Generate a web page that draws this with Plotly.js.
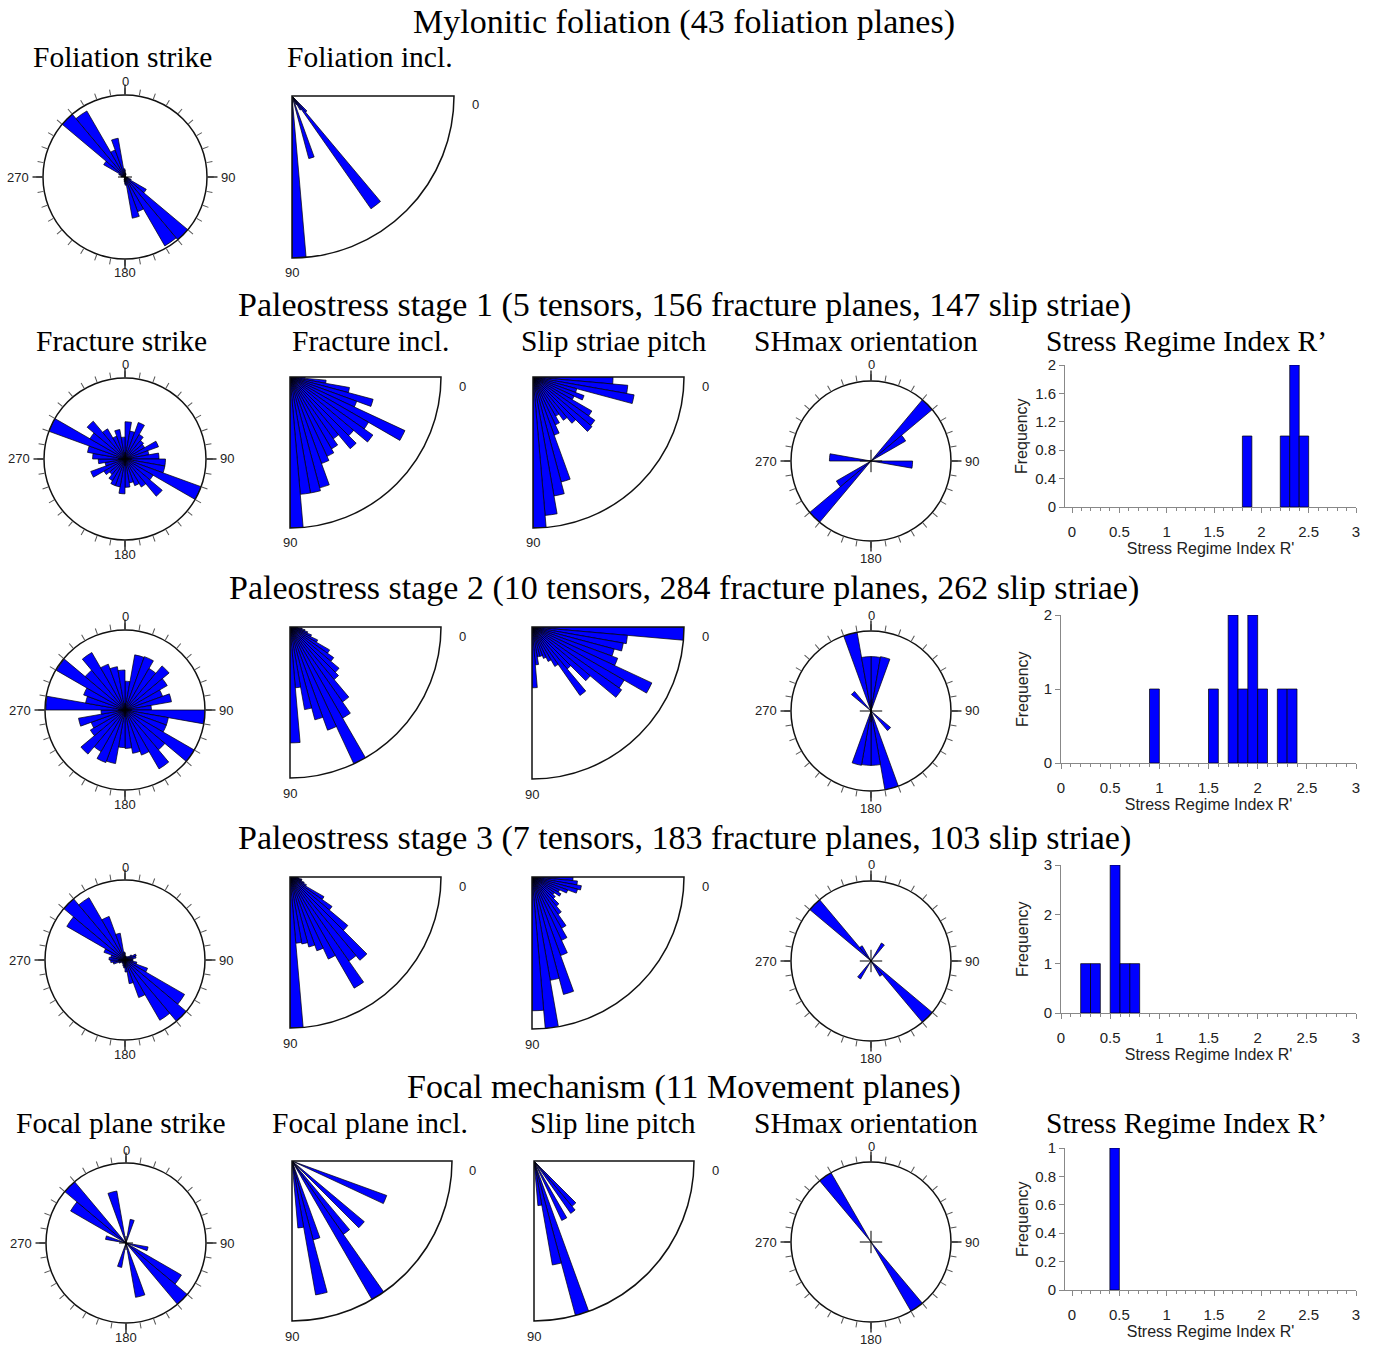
<!DOCTYPE html>
<html><head><meta charset="utf-8">
<script src="https://cdn.plot.ly/plotly-3.0.1.min.js"></script>
<style>html,body{margin:0;padding:0;background:#fff}#chart{width:1375px;height:1347px}</style>
</head><body><div id="chart"></div>
<script>
// ---------------- DATA ----------------
// 10-degree strike / azimuth bins (bin centres, degrees from N, clockwise)
const strikeBins = [5,15,25,35,45,55,65,75,85,95,105,115,125,135,145,155,165,175,
                    185,195,205,215,225,235,245,255,265,275,285,295,305,315,325,335,345,355];
// 5-degree inclination / pitch bins (bin centres, degrees)
const inclBins = [2.5,7.5,12.5,17.5,22.5,27.5,32.5,37.5,42.5,47.5,52.5,57.5,62.5,67.5,72.5,77.5,82.5,87.5];

// Mylonitic foliation
const foliationStrike = [0.05,0.04,0,0,0,0,0,0,0,0,0.04,0.08,0.3,1.0,0.97,0.45,0.51,0.1,
                         0.06,0.04,0,0,0,0,0,0,0,0.05,0.04,0.08,0.3,1.0,0.93,0.35,0.48,0.1];
const foliationIncl = [0,0,0,0,0,0,0,0,0,0.13,0.85,0.1,0.06,0,0.4,0,0,1.0];

// Paleostress stage 1
const s1FractureStrike = [0.46,0.35,0.48,0.35,0.3,0.28,0.44,0.3,0.42,0.5,0.5,1.0,0.4,0.6,0.4,0.35,0.3,0.35,
                          0.43,0.35,0.35,0.31,0.25,0.3,0.45,0.25,0.33,0.4,0.47,1.0,0.5,0.61,0.43,0.3,0.37,0.27];
const s1FractureIncl = [0.1,0.24,0.4,0.57,0.47,0.84,0.6,0.67,0.55,0.62,0.5,0.55,0.58,0.61,0.76,0.78,0.78,1.0];
const s1SlipPitch = [0.53,0.63,0.68,0.3,0.36,0.3,0.45,0.5,0.51,0.4,0.35,0.3,0.35,0.41,0.72,0.8,0.92,1.0];
const s1SHmax = [0,0,0,0,1.0,0.5,0,0,0,0.52,0,0,0,0,0,0,0,0,
                 0,0,0,0,1.0,0.5,0,0,0,0.52,0,0,0,0,0,0,0,0];
const s1R = [1.85,2.25,2.35,2.45];
const s1Freq = [1,1,2,1];

// Paleostress stage 2
const s2FractureStrike = [0.36,0.7,0.71,0.6,0.72,0.61,0.5,0.59,0.33,1.0,0.55,0.55,1.0,0.65,0.85,0.6,0.55,0.48,
                          0.47,0.68,0.7,0.6,0.72,0.5,0.45,0.59,0.3,0.99,0.5,0.55,0.99,0.65,0.83,0.61,0.55,0.5];
const s2FractureIncl = [0.05,0.08,0.1,0.12,0.15,0.2,0.3,0.35,0.42,0.45,0.6,0.69,0.99,0.72,0.63,0.55,0.4,0.76];
const s2SlipPitch = [1.0,0.63,0.61,0.56,0.6,0.87,0.7,0.72,0.5,0.36,0.55,0.3,0.25,0.22,0.2,0.2,0.25,0.4];
const s2SHmax = [0.68,0.69,0,0,0,0,0,0,0,0,0,0,0,0.32,0,0,1.0,0.68,
                 0.68,0.69,0,0,0,0,0,0,0,0,0,0,0,0.32,0,0,1.0,0.68];
const s2R = [0.95,1.55,1.75,1.85,1.95,2.05,2.25,2.35];
const s2Freq = [1,1,2,1,2,1,1,1];

// Paleostress stage 3
const s3FractureStrike = [0.05,0.05,0.04,0.05,0.06,0.1,0.15,0.14,0.1,0.1,0.15,0.3,0.86,1.0,0.87,0.5,0.3,0.15,
                          0.1,0.08,0.06,0.05,0.05,0.05,0.08,0.15,0.18,0.2,0.18,0.28,0.84,1.0,0.9,0.58,0.34,0.1];
const s3FractureIncl = [0.05,0.06,0.08,0.08,0.1,0.12,0.26,0.34,0.5,0.72,0.68,0.85,0.6,0.52,0.48,0.45,0.44,1.0];
const s3SlipPitch = [0.27,0.3,0.33,0.31,0.25,0.2,0.22,0.18,0.2,0.25,0.3,0.39,0.46,0.55,0.8,0.69,1.0,0.88];
const s3SHmax = [0,0,0,0.26,0,0,0,0,0,0,0,0,0,1.0,0.22,0,0,0,
                 0,0,0,0.26,0,0,0,0,0,0,0,0,0,1.0,0.22,0,0,0];
const s3R = [0.25,0.35,0.55,0.65,0.75];
const s3Freq = [1,1,3,1,1];

// Focal mechanism
const focalStrike = [0,0.3,0,0,0,0,0,0,0,0,0.28,0,0.8,1.0,0,0,0.69,0,
                     0,0.31,0,0,0,0,0,0,0,0,0.26,0,0.8,1.0,0,0,0.66,0];
const focalIncl = [0,0,0,0,0.63,0,0,0,0.59,0,0.56,1.0,0,0,0.51,0.85,0.42,0];
const focalSlipPitch = [0,0,0,0,0,0,0,0,0,0.37,0.4,0,0.41,0,1.0,0.66,0.28,0];
const focalSHmax = [0,0,0,0,0,0,0,0,0,0,0,0,0,0,1.0,0,0,0,
                    0,0,0,0,0,0,0,0,0,0,0,0,0,0,1.0,0,0,0];
const focalR = [0.45];
const focalFreq = [1];

// Texts
const mainTitles = [
  "Mylonitic foliation (43 foliation planes)",
  "Paleostress stage 1 (5 tensors, 156 fracture planes, 147 slip striae)",
  "Paleostress stage 2 (10 tensors, 284 fracture planes, 262 slip striae)",
  "Paleostress stage 3 (7 tensors, 183 fracture planes, 103 slip striae)",
  "Focal mechanism (11 Movement planes)"
];
const foliationPanelTitles = ["Foliation strike","Foliation incl."];
const stressPanelTitles = ["Fracture strike","Fracture incl.","Slip striae pitch","SHmax orientation","Stress Regime Index R\u2019"];
const focalPanelTitles = ["Focal plane strike","Focal plane incl.","Slip line pitch","SHmax orientation","Stress Regime Index R\u2019"];
const histXTitle = "Stress Regime Index R'";
const histYTitle = "Frequency";
const roseLabels = ["0","90","180","270"];
const quarterLabels = ["0","90"];

// ---------------- BUILD ----------------
const W = 1375, H = 1347;
const px = x => x / W;
const py = y => 1 - y / H;
const BLUE = '#0000ff';
const SANS = 'Liberation Sans Narrow, Liberation Sans, Arial, sans-serif';
const SERIF = 'Liberation Serif, Times New Roman, serif';
const tickFont = {family: SANS, size: 13, color: '#222'};

const roseTicks = []; for (let a = 0; a < 360; a += 10) roseTicks.push(a);
const quarterTicks = []; for (let a = 10; a <= 80; a += 10) quarterTicks.push(a);

const traces = [];
const layout = {
  width: W, height: H, margin: {l: 0, r: 0, t: 0, b: 0},
  showlegend: false, paper_bgcolor: '#fff', plot_bgcolor: '#fff',
  annotations: []
};
let pid = 0;
function newPolar() { pid++; return pid === 1 ? 'polar' : 'polar' + pid; }
function dummy(sp) {
  traces.push({type: 'scatterpolar', subplot: sp, r: [0], theta: [0], mode: 'markers',
    marker: {size: 1, opacity: 0}, hoverinfo: 'skip'});
}
function label(t, x, y, font, extra) {
  layout.annotations.push(Object.assign({text: t, x: px(x), y: py(y), xref: 'paper', yref: 'paper',
    showarrow: false, xanchor: 'center', yanchor: 'middle', font: font}, extra || {}));
}

function rose(cx, cy, r, values, crossSize, vGap, hGap) {
  const dom = {x: [px(cx - r), px(cx + r)], y: [py(cy + r), py(cy - r)]};
  const base = newPolar();
  layout[base] = {
    domain: dom, bgcolor: '#fff',
    radialaxis: {visible: false, range: [0, Math.max(...values)]},
    angularaxis: {rotation: 90, direction: 'clockwise', tickmode: 'array', tickvals: roseTicks,
      showticklabels: false, ticks: 'outside', ticklen: 6, tickcolor: '#555', tickwidth: 1,
      showline: true, linecolor: '#111', linewidth: 1.5, showgrid: false}
  };
  traces.push({type: 'barpolar', subplot: base, r: values, theta: strikeBins, width: 10,
    marker: {color: BLUE, line: {color: '#000', width: 0.7}}, hoverinfo: 'skip'});
  // cardinal ticks + centre cross
  const ov = newPolar();
  layout[ov] = {
    domain: dom, bgcolor: 'rgba(0,0,0,0)',
    radialaxis: {visible: false, range: [0, 1]},
    angularaxis: {rotation: 90, direction: 'clockwise', tickmode: 'array', tickvals: [0, 90, 180, 270],
      showticklabels: false, ticks: 'outside', ticklen: 10, tickcolor: '#111', tickwidth: 1.3,
      showline: false, showgrid: false}
  };
  traces.push({type: 'scatterpolar', subplot: ov, r: [0], theta: [0], mode: 'markers',
    marker: {symbol: 'cross-thin-open', size: crossSize, color: '#000', line: {color: '#000', width: 1}},
    hoverinfo: 'skip'});
  // cardinal labels
  label(roseLabels[0], cx, cy - r - vGap, tickFont);
  label(roseLabels[1], cx + r + hGap, cy, tickFont, {xanchor: 'left'});
  label(roseLabels[2], cx, cy + r + vGap + 1, tickFont);
  label(roseLabels[3], cx - r - hGap, cy, tickFont, {xanchor: 'right'});
}

function quarter(vx, vy, r, values) {
  const dom = {x: [px(vx), px(vx + r)], y: [py(vy + r), py(vy)]};
  const base = newPolar();
  layout[base] = {
    domain: dom, sector: [270, 360], bgcolor: '#fff',
    radialaxis: {visible: false, range: [0, Math.max(...values)]},
    angularaxis: {rotation: 0, direction: 'clockwise', tickmode: 'array', tickvals: quarterTicks,
      showticklabels: false, ticks: 'outside', ticklen: 6, tickcolor: '#555', tickwidth: 1,
      showline: true, linecolor: '#111', linewidth: 1.5, showgrid: false}
  };
  traces.push({type: 'barpolar', subplot: base, r: values, theta: inclBins, width: 5,
    marker: {color: BLUE, line: {color: '#000', width: 0.7}}, hoverinfo: 'skip'});
  // frame edges (0 and 90 degree lines)
  const ov = newPolar();
  layout[ov] = {
    domain: dom, sector: [270, 360], bgcolor: 'rgba(0,0,0,0)',
    radialaxis: {visible: false, range: [0, 1]},
    angularaxis: {rotation: 0, direction: 'clockwise', tickmode: 'array', tickvals: [0, 90],
      showticklabels: false, ticks: '', showline: false, showgrid: true, gridcolor: '#111', gridwidth: 1.5}
  };
  dummy(ov);
  label(quarterLabels[0], vx + r + 21, vy + 9, tickFont);
  label(quarterLabels[1], vx, vy + r + 15, tickFont);
}

let hid = 0;
function hist(xs, ys, x0px, x3px, xLeftPx, yBotPx, yTopPx, ymax, ytickvals) {
  hid++;
  const xa = hid === 1 ? 'xaxis' : 'xaxis' + hid;
  const ya = hid === 1 ? 'yaxis' : 'yaxis' + hid;
  const xr = hid === 1 ? 'x' : 'x' + hid;
  const yr = hid === 1 ? 'y' : 'y' + hid;
  const upp = 3 / (x3px - x0px);
  const xmin = (xLeftPx - x0px) * upp;
  const fnt = {family: 'Liberation Sans, Arial, sans-serif', size: 15, color: '#222'};
  const axisCommon = {showline: true, linecolor: '#888', linewidth: 1, ticks: 'outside', tickcolor: '#888',
    ticklen: 5, tickfont: fnt, showgrid: false, zeroline: false, automargin: false, fixedrange: true};
  layout[xa] = Object.assign({}, axisCommon, {
    domain: [px(xLeftPx), px(x3px)], range: [xmin, 3], anchor: yr,
    tickmode: 'array', tickvals: [0, 0.5, 1, 1.5, 2, 2.5, 3], ticktext: ['0','0.5','1','1.5','2','2.5','3'],
    ticklabelstandoff: 6,
    minor: {dtick: 0.1, tick0: 0, ticks: 'outside', ticklen: 3, tickcolor: '#888'},
    title: {text: histXTitle, standoff: 1, font: Object.assign({}, fnt, {size: 16})}
  });
  layout[ya] = Object.assign({}, axisCommon, {
    domain: [py(yBotPx), py(yTopPx)], range: [0, ymax], anchor: xr,
    tickmode: 'array', tickvals: ytickvals, ticktext: ytickvals.map(String)
  });
  label(histYTitle, 1022, (yBotPx + yTopPx) / 2, Object.assign({}, fnt, {size: 16}), {textangle: -90});
  traces.push({type: 'bar', x: xs, y: ys, xaxis: xr, yaxis: yr, width: 0.1,
    marker: {color: BLUE, line: {color: '#000', width: 0.7}}, hoverinfo: 'skip'});
}

function text(t, x, y, size) {
  label(t, x, y, {family: SERIF, size: size, color: '#000'});
}

// Row 1 : mylonitic foliation
rose(125, 177, 82, foliationStrike, 10, 13, 12);
quarter(292, 96, 162, foliationIncl);
// Row 2 : stage 1
rose(125, 459, 81, s1FractureStrike, 10, 13, 12);
quarter(290, 377, 151, s1FractureIncl);
quarter(533, 377, 151, s1SlipPitch);
rose(871, 461, 80, s1SHmax, 16, 16, 12);
hist(s1R, s1Freq, 1072, 1356, 1065, 507, 365, 2, [0, 0.4, 0.8, 1.2, 1.6, 2]);
// Row 3 : stage 2
rose(125, 710, 80, s2FractureStrike, 10, 13, 12);
quarter(290, 627, 151, s2FractureIncl);
quarter(532, 627, 152, s2SlipPitch);
rose(871, 711, 80, s2SHmax, 16, 16, 12);
hist(s2R, s2Freq, 1061, 1356, 1061, 763, 615, 2, [0, 1, 2]);
// Row 4 : stage 3
rose(125, 960, 80, s3FractureStrike, 10, 13, 12);
quarter(290, 877, 151, s3FractureIncl);
quarter(532, 877, 152, s3SlipPitch);
rose(871, 961, 80, s3SHmax, 16, 16, 12);
hist(s3R, s3Freq, 1061, 1356, 1061, 1013, 865, 3, [0, 1, 2, 3]);
// Row 5 : focal mechanisms
rose(126, 1243, 80, focalStrike, 10, 13, 12);
quarter(292, 1161, 160, focalIncl);
quarter(534, 1161, 160, focalSlipPitch);
rose(871, 1242, 80, focalSHmax, 16, 16, 12);
hist(focalR, focalFreq, 1072, 1356, 1065, 1290, 1148, 1, [0, 0.2, 0.4, 0.6, 0.8, 1]);

// Titles
const mainY = [22, 305, 588, 838, 1087];
mainTitles.forEach((t, i) => text(t, 684, mainY[i], 34));
const panelX = [121, 370, 613, 866, 1186];
text(foliationPanelTitles[0], 122, 57, 29.5);
text(foliationPanelTitles[1], 370, 57, 29.5);
stressPanelTitles.forEach((t, i) => text(t, panelX[i], 341, 29.5));
focalPanelTitles.forEach((t, i) => text(t, panelX[i], 1123, 29.5));

Plotly.newPlot('chart', traces, layout, {staticPlot: true, displayModeBar: false});
</script>
</body></html>
